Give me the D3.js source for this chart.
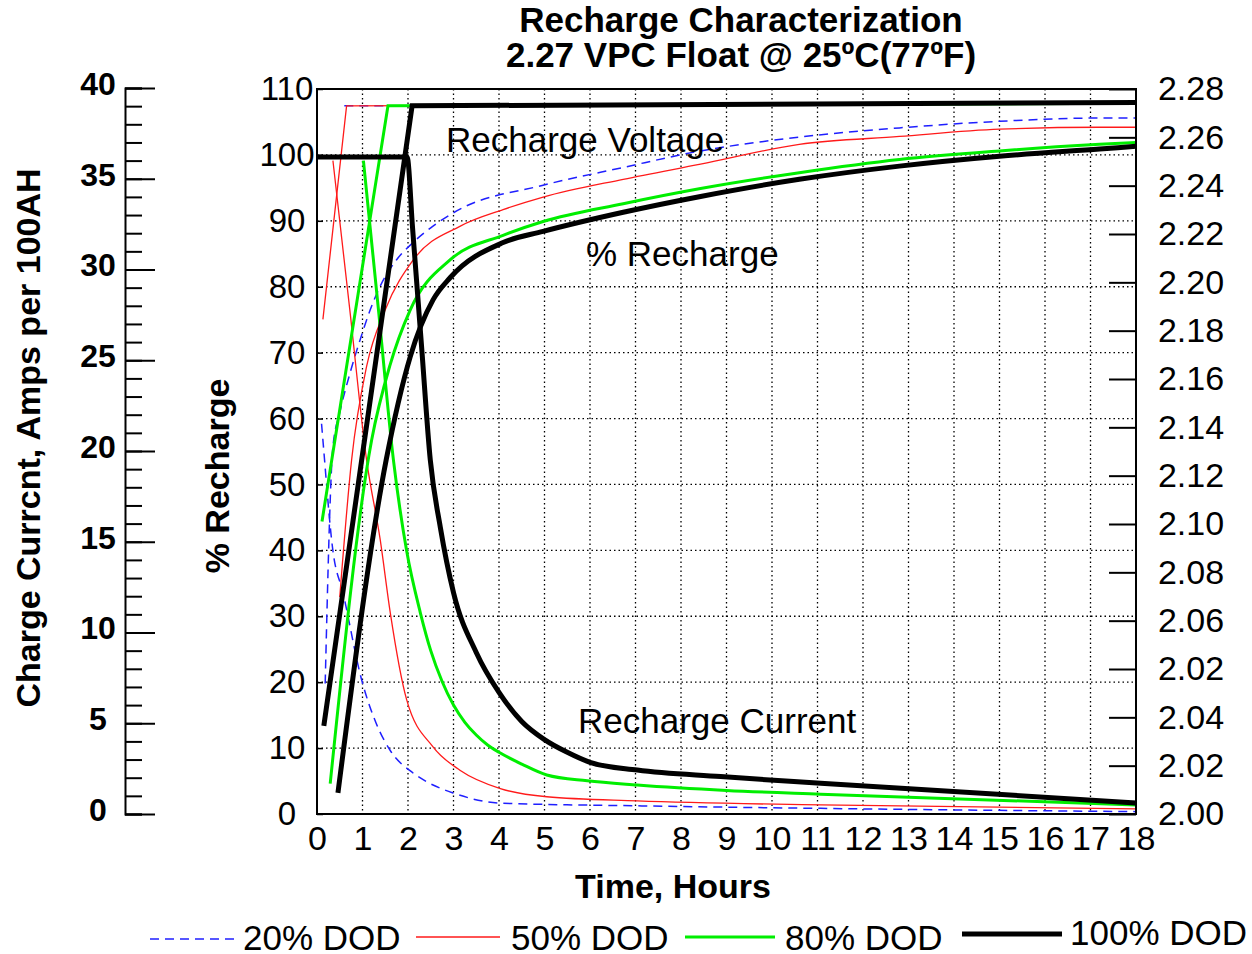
<!DOCTYPE html>
<html>
<head>
<meta charset="utf-8">
<script src="https://cdn.jsdelivr.net/npm/d3@7"></script>
<style>
  body { margin: 0; background: #fff; }
  svg { display: block; font-family: "Liberation Sans", Arial, sans-serif; }
</style>
</head>
<body>
<div id="chart"></div>
<script>
// axis ticks / labels
var hours = d3.range(0, 19);
var pctTicks = d3.range(0, 111, 10);
var ampMajor = d3.range(0, 41, 5);
var ampMinor = d3.range(0, 41, 1);
// right axis labels as printed (bottom to top)
var voltLabels = ["2.00","2.02","2.04","2.02","2.06","2.08","2.10","2.12","2.14","2.16","2.18","2.20","2.22","2.24","2.26","2.28"];

// [hours, volts per cell]
var volt20 = [[0.6, 2.2735], [18, 2.2745]];
var volt50 = [[0.13, 2.191], [0.65, 2.2735], [18, 2.2745]];
var volt80 = [[0.11, 2.113], [1.56, 2.2735], [18, 2.2745]];
var volt100 = [[0.15, 2.034], [2.09, 2.2735], [18, 2.2748]];

// [hours, amps per 100AH]
var cur20 = [[0.1, 21.5], [0.13, 20.6], [0.35, 14.5], [0.57, 12.2], [0.98, 7.4], [1.3, 5.0], [1.61, 3.5], [2.11, 2.26], [2.41, 1.78], [2.99, 1.16], [4.03, 0.6], [7.04, 0.45], [11.07, 0.31], [18, 0.13]];
var cur50 = [[0.35, 36.0], [0.72, 27.8], [1.09, 19.5], [1.39, 15.1], [1.61, 11.1], [1.97, 6.3], [2.55, 3.7], [3.15, 2.4], [4.03, 1.4], [5.05, 0.95], [7.04, 0.72], [11.07, 0.5], [18, 0.28]];
var cur80 = [[1.02, 36.0], [1.35, 27.8], [1.68, 19.5], [1.97, 14.5], [2.27, 11.1], [2.5, 9.0], [2.75, 7.3], [3.0, 6.0], [3.25, 5.05], [3.5, 4.35], [3.75, 3.8], [4.0, 3.4], [4.5, 2.75], [5.05, 2.15], [5.94, 1.83], [7.04, 1.6], [9, 1.3], [11.07, 1.09], [18, 0.5]];
var cur100 = [[0, 36.2], [1.98, 36.2], [2.1, 32.3], [2.3, 25.7], [2.49, 19.5], [2.71, 15.8], [3.0, 12.2], [3.5, 8.9], [4.0, 6.7], [4.5, 5.1], [5.0, 4.1], [5.5, 3.4], [6.0, 2.85], [7.04, 2.42], [8.87, 2.06], [11.07, 1.69], [18, 0.61]];

// [hours, % recharge]
var rec20 = [[0.18, 19.8], [0.35, 55.7], [0.5, 60.9], [0.73, 67], [0.95, 72], [1.17, 76.5], [1.39, 80.1], [1.75, 84.1], [2.11, 86.7], [2.55, 89.2], [3.07, 91.5], [4.97, 95.4], [6.73, 98.1], [8.43, 100.6], [10.6, 102.7], [12.8, 104.1], [15, 105.1], [17.2, 105.6], [18, 105.6]];
var rec50 = [[0.5, 32.9], [0.76, 53.7], [1.09, 67.9], [1.5, 76.5], [2.12, 84.1], [3.15, 89.2], [4.09, 91.7], [4.97, 93.6], [6.73, 96.3], [8.43, 98.6], [10.6, 101.6], [12.8, 102.8], [15, 103.9], [17.2, 104.2], [18, 104.2]];
var rec80 = [[0.29, 4.6], [1.2, 56.7], [1.6, 68], [2.05, 76.5], [2.93, 84.1], [4.09, 87.8], [4.97, 89.9], [6.73, 92.6], [8.43, 94.9], [10.6, 97.3], [12.8, 99.3], [15, 100.6], [17.2, 101.6], [18, 101.9]];
var rec100 = [[0.46, 3.2], [1.52, 53.7], [2.05, 69.4], [2.55, 78], [2.93, 81.4], [4.09, 86.7], [4.97, 88.4], [6.73, 91.3], [8.43, 93.7], [10.6, 96.3], [12.8, 98.3], [15, 99.8], [17.2, 100.9], [18, 101.3]];

var seriesNames = ["20% DOD", "50% DOD", "80% DOD", "100% DOD"];

var width = 1252, height = 954;
var plot = { left: 317, right: 1136, top: 89, bottom: 814 };

var styles = [
  { color: "#1f1fff", w: 1.5, dash: "9,6" },
  { color: "#ff1a1a", w: 1.3, dash: null },
  { color: "#00ee00", w: 3, dash: null },
  { color: "#000", w: 5, dash: null }
];

var svg = d3.select("#chart").append("svg")
    .attr("width", width)
    .attr("height", height);

var x = d3.scaleLinear().domain([0, 18]).range([plot.left, plot.right]);
var y = d3.scaleLinear().domain([0, 110]).range([plot.bottom, plot.top]);
var amp = d3.scaleLinear().domain([0, 40]).range([plot.bottom, plot.top - 1]);
var volt = d3.scaleLinear().domain([2.00, 2.28]).range([plot.bottom, plot.top]);
var voltPos = d3.scalePoint().domain(d3.range(voltLabels.length)).range([plot.bottom, plot.top]);

// dotted grid
var grid = svg.append("g").attr("class", "grid")
    .attr("stroke", "#000").attr("stroke-width", 1.3).attr("stroke-dasharray", "1.5,3");
grid.selectAll(".gx").data(hours.slice(1, 18)).enter().append("line")
    .attr("x1", function(d) { return x(d); }).attr("x2", function(d) { return x(d); })
    .attr("y1", plot.top).attr("y2", plot.bottom);
grid.selectAll(".gy").data(pctTicks.slice(1, 11)).enter().append("line")
    .attr("y1", function(d) { return y(d); }).attr("y2", function(d) { return y(d); })
    .attr("x1", plot.left).attr("x2", plot.right);

// series
var groups = [
  { volt: volt20, cur: cur20, rec: rec20 },
  { volt: volt50, cur: cur50, rec: rec50 },
  { volt: volt80, cur: cur80, rec: rec80 },
  { volt: volt100, cur: cur100, rec: rec100 }
];

var vLine = d3.line().x(function(d) { return x(d[0]); }).y(function(d) { return volt(d[1]); });
var cLine = d3.line().x(function(d) { return x(d[0]); }).y(function(d) { return amp(d[1]); }).curve(d3.curveMonotoneX);
var rLine = d3.line().x(function(d) { return x(d[0]); }).y(function(d) { return y(d[1]); }).curve(d3.curveMonotoneX);

groups.forEach(function(g, i) {
  var st = styles[i];
  var gg = svg.append("g").attr("fill", "none")
      .attr("stroke", st.color).attr("stroke-width", st.w)
      .attr("stroke-dasharray", st.dash);
  gg.append("path").attr("d", vLine(g.volt));
  gg.append("path").attr("d", cLine(g.cur));
  gg.append("path").attr("d", rLine(g.rec));
});

// frame
svg.append("rect")
    .attr("x", plot.left).attr("y", plot.top)
    .attr("width", plot.right - plot.left).attr("height", plot.bottom - plot.top)
    .attr("fill", "none").attr("stroke", "#000").attr("stroke-width", 2);

// x axis
var xAxis = svg.append("g")
    .attr("transform", "translate(0," + plot.bottom + ")")
    .call(d3.axisBottom(x).tickValues(hours).tickSize(0).tickPadding(12).tickFormat(d3.format("d")));
xAxis.select(".domain").remove();
xAxis.selectAll("text").attr("font-size", 34).attr("font-family", null).attr("fill", "#000");

// % recharge axis
var yAxis = svg.append("g")
    .attr("transform", "translate(" + plot.left + ",0)")
    .call(d3.axisLeft(y).tickValues(pctTicks).tickSizeInner(-6).tickSizeOuter(0).tickPadding(30));
yAxis.select(".domain").remove();
yAxis.selectAll("line").attr("stroke-width", 1.5);
yAxis.selectAll("text").attr("font-size", 33).attr("font-family", null)
    .attr("text-anchor", "middle").attr("fill", "#000");

// voltage axis (right)
var vAxis = svg.append("g")
    .attr("transform", "translate(" + plot.right + ",0)")
    .call(d3.axisRight(voltPos).tickSizeInner(-27).tickSizeOuter(0).tickPadding(55)
      .tickFormat(function(i) { return voltLabels[i]; }));
vAxis.select(".domain").remove();
vAxis.selectAll("line").attr("stroke-width", 2);
vAxis.selectAll("text").attr("font-size", 34).attr("font-family", null)
    .attr("text-anchor", "middle").attr("fill", "#000");

// amps axis (far left)
var ampX = 125;
var aMinor = svg.append("g")
    .attr("transform", "translate(" + ampX + ",0)")
    .call(d3.axisRight(amp).tickValues(ampMinor).tickSize(17).tickFormat(""));
aMinor.selectAll("line").attr("stroke-width", 2);
aMinor.select(".domain").attr("stroke-width", 2);
var aMajor = svg.append("g")
    .attr("transform", "translate(" + ampX + ",0)")
    .call(d3.axisRight(amp).tickValues(ampMajor).tickSize(30).tickPadding(0));
aMajor.select(".domain").remove();
aMajor.selectAll("line").attr("stroke-width", 2);
aMajor.selectAll("text").attr("x", -27).attr("dy", "0.2em")
    .attr("text-anchor", "middle").attr("font-size", 32).attr("font-weight", "bold")
    .attr("font-family", null).attr("fill", "#000");

// titles
svg.append("text").attr("x", 741).attr("y", 32).attr("text-anchor", "middle")
    .attr("font-size", 35).attr("font-weight", "bold").text("Recharge Characterization");
svg.append("text").attr("x", 741).attr("y", 67).attr("text-anchor", "middle")
    .attr("font-size", 35).attr("font-weight", "bold").text("2.27 VPC Float @ 25ºC(77ºF)");
svg.append("text").attr("x", 673).attr("y", 898).attr("text-anchor", "middle")
    .attr("font-size", 34).attr("font-weight", "bold").text("Time, Hours");
svg.append("text").attr("transform", "translate(40,438) rotate(-90)").attr("text-anchor", "middle")
    .attr("font-size", 34).attr("font-weight", "bold").text("Charge Currcnt, Amps per 100AH");
svg.append("text").attr("transform", "translate(229,476) rotate(-90)").attr("text-anchor", "middle")
    .attr("font-size", 34).attr("font-weight", "bold").text("% Recharge");

// in-plot labels
svg.append("text").attr("x", 446).attr("y", 152).attr("font-size", 35).text("Recharge Voltage");
svg.append("text").attr("x", 586).attr("y", 266).attr("font-size", 35).text("% Recharge");
svg.append("text").attr("x", 578).attr("y", 733).attr("font-size", 35).text("Recharge Current");

// legend
var legendItems = [
  { x1: 150, x2: 240, ly: 939, tx: 243, ty: 950 },
  { x1: 416, x2: 500, ly: 937, tx: 511, ty: 950 },
  { x1: 685, x2: 775, ly: 937, tx: 785, ty: 950 },
  { x1: 962, x2: 1062, ly: 934, tx: 1070, ty: 945 }
];
var leg = svg.append("g").selectAll("g").data(seriesNames).enter().append("g");
leg.append("line")
    .attr("x1", function(d, i) { return legendItems[i].x1; })
    .attr("x2", function(d, i) { return legendItems[i].x2; })
    .attr("y1", function(d, i) { return legendItems[i].ly; })
    .attr("y2", function(d, i) { return legendItems[i].ly; })
    .attr("stroke", function(d, i) { return styles[i].color; })
    .attr("stroke-width", function(d, i) { return styles[i].w; })
    .attr("stroke-dasharray", function(d, i) { return styles[i].dash; });
leg.append("text")
    .attr("x", function(d, i) { return legendItems[i].tx; })
    .attr("y", function(d, i) { return legendItems[i].ty; })
    .attr("font-size", 35)
    .text(function(d) { return d; });
</script>
</body>
</html>
